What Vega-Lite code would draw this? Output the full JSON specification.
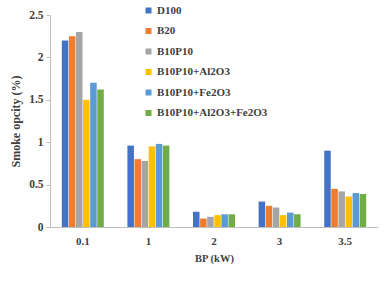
{
  "$schema": "https://vega.github.io/schema/vega-lite/v6.json",
  "width": 328,
  "height": 212,
  "autosize": "none",
  "padding": {"left": 50, "top": 15, "right": 12, "bottom": 60},
  "background": "white",
  "config": {
    "view": {"stroke": null},
    "font": "'Liberation Serif', serif",
    "axis": {"labelFont": "'Liberation Serif', serif", "titleFont": "'Liberation Serif', serif", "labelColor": "#404040", "titleColor": "#404040", "domainColor": "#BFBFBF", "tickColor": "#BFBFBF", "grid": false},
    "legend": {"labelFont": "'Liberation Serif', serif", "labelColor": "#404040"}
  },
  "data": {
    "values": [
      {"BP": "0.1", "Fuel": "D100", "v": 2.2},
      {"BP": "0.1", "Fuel": "B20", "v": 2.25},
      {"BP": "0.1", "Fuel": "B10P10", "v": 2.3},
      {"BP": "0.1", "Fuel": "B10P10+Al2O3", "v": 1.5},
      {"BP": "0.1", "Fuel": "B10P10+Fe2O3", "v": 1.7},
      {"BP": "0.1", "Fuel": "B10P10+Al2O3+Fe2O3", "v": 1.62},
      {"BP": "1", "Fuel": "D100", "v": 0.96},
      {"BP": "1", "Fuel": "B20", "v": 0.8},
      {"BP": "1", "Fuel": "B10P10", "v": 0.78},
      {"BP": "1", "Fuel": "B10P10+Al2O3", "v": 0.95},
      {"BP": "1", "Fuel": "B10P10+Fe2O3", "v": 0.98},
      {"BP": "1", "Fuel": "B10P10+Al2O3+Fe2O3", "v": 0.96},
      {"BP": "2", "Fuel": "D100", "v": 0.18},
      {"BP": "2", "Fuel": "B20", "v": 0.1},
      {"BP": "2", "Fuel": "B10P10", "v": 0.12},
      {"BP": "2", "Fuel": "B10P10+Al2O3", "v": 0.14},
      {"BP": "2", "Fuel": "B10P10+Fe2O3", "v": 0.15},
      {"BP": "2", "Fuel": "B10P10+Al2O3+Fe2O3", "v": 0.15},
      {"BP": "3", "Fuel": "D100", "v": 0.3},
      {"BP": "3", "Fuel": "B20", "v": 0.25},
      {"BP": "3", "Fuel": "B10P10", "v": 0.23},
      {"BP": "3", "Fuel": "B10P10+Al2O3", "v": 0.14},
      {"BP": "3", "Fuel": "B10P10+Fe2O3", "v": 0.17},
      {"BP": "3", "Fuel": "B10P10+Al2O3+Fe2O3", "v": 0.15},
      {"BP": "3.5", "Fuel": "D100", "v": 0.9},
      {"BP": "3.5", "Fuel": "B20", "v": 0.45},
      {"BP": "3.5", "Fuel": "B10P10", "v": 0.42},
      {"BP": "3.5", "Fuel": "B10P10+Al2O3", "v": 0.36},
      {"BP": "3.5", "Fuel": "B10P10+Fe2O3", "v": 0.4},
      {"BP": "3.5", "Fuel": "B10P10+Al2O3+Fe2O3", "v": 0.39}
    ]
  },
  "mark": {"type": "bar"},
  "encoding": {
    "x": {
      "field": "BP", "type": "nominal", "sort": ["0.1", "1", "2", "3", "3.5"],
      "scale": {"paddingInner": 0.36, "paddingOuter": 0.18},
      "axis": {"title": "BP (kW)", "labelAngle": 0, "ticks": false, "labelFontSize": 11, "labelFontWeight": "bold", "labelPadding": 8, "titleFontSize": 10.5, "titleFontWeight": "bold", "titlePadding": 7}
    },
    "xOffset": {
      "field": "Fuel", "type": "nominal",
      "sort": ["D100", "B20", "B10P10", "B10P10+Al2O3", "B10P10+Fe2O3", "B10P10+Al2O3+Fe2O3"],
      "scale": {"paddingInner": 0.08}
    },
    "y": {
      "field": "v", "type": "quantitative",
      "scale": {"domain": [0, 2.5], "nice": false},
      "axis": {"title": "Smoke opcity (%)", "values": [0, 0.5, 1, 1.5, 2, 2.5], "format": "~g", "tickSize": 4, "labelFontSize": 11.5, "labelFontWeight": "bold", "labelPadding": 3, "titleFontSize": 12, "titleFontWeight": "bold", "titlePadding": 6}
    },
    "color": {
      "field": "Fuel", "type": "nominal",
      "sort": ["D100", "B20", "B10P10", "B10P10+Al2O3", "B10P10+Fe2O3", "B10P10+Al2O3+Fe2O3"],
      "scale": {"domain": ["D100", "B20", "B10P10", "B10P10+Al2O3", "B10P10+Fe2O3", "B10P10+Al2O3+Fe2O3"], "range": ["#4472C4", "#ED7D31", "#A5A5A5", "#FFC000", "#5B9BD5", "#70AD47"]},
      "legend": {"title": null, "orient": "none", "legendX": 93, "legendY": -10, "symbolType": "square", "symbolSize": 36, "symbolStrokeWidth": 0, "labelFontSize": 11, "labelFontWeight": "bold", "rowPadding": 8.5, "labelOffset": 3}
    }
  }
}
